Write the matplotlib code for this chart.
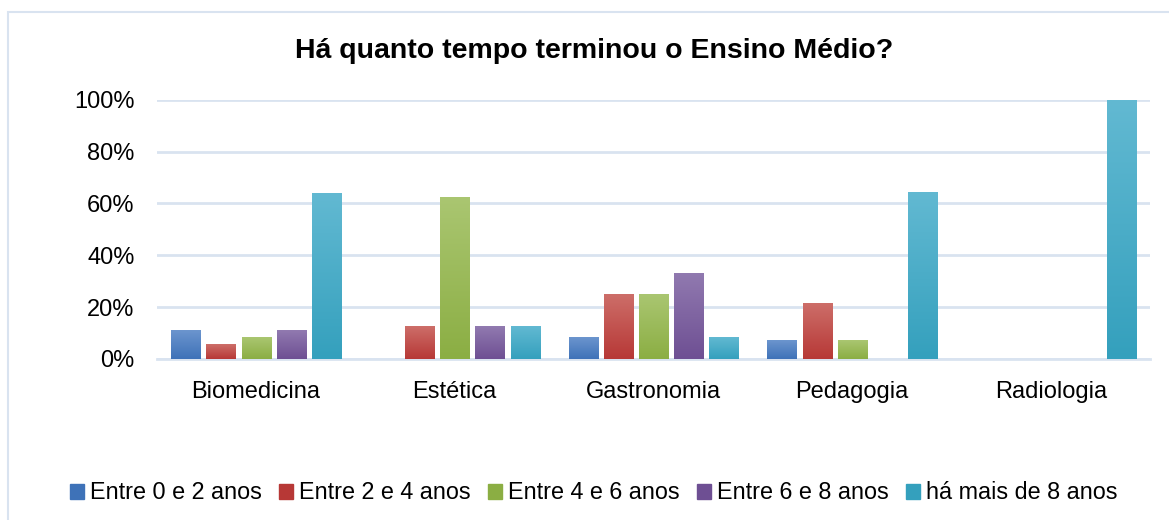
import matplotlib.pyplot as plt
import numpy as np
from matplotlib.colors import LinearSegmentedColormap
from matplotlib.patches import Rectangle

plt.rcParams['font.family'] = ['Liberation Sans', 'DejaVu Sans']

cursos = ['Biomedicina', 'Estética', 'Gastronomia', 'Pedagogia', 'Radiologia']
series = ['Entre 0 e 2 anos', 'Entre 2 e 4 anos', 'Entre 4 e 6 anos',
          'Entre 6 e 8 anos', 'há mais de 8 anos']
entre_0_2 = [11.1, 0.0, 8.3, 7.1, 0.0]
entre_2_4 = [5.6, 12.5, 25.0, 21.4, 0.0]
entre_4_6 = [8.3, 62.5, 25.0, 7.1, 0.0]
entre_6_8 = [11.1, 12.5, 33.3, 0.0, 0.0]
mais_8 = [63.9, 12.5, 8.3, 64.3, 100.0]
valores = [entre_0_2, entre_2_4, entre_4_6, entre_6_8, mais_8]

# (top, bottom) gradient colours, Excel style
cores = [('#6C95CE', '#3E72B8'), ('#CD6E69', '#B73836'), ('#AAC671', '#8BAE43'),
         ('#917AB0', '#6E4F93'), ('#62B9D2', '#34A0BD')]
grid_cor = '#D9E3F0'

fig = plt.figure(figsize=(11.69, 5.2), dpi=100)
ax = fig.add_axes([0.134, 0.310, 0.850, 0.498])

x = np.arange(len(cursos))
slot = 0.177
largura = 0.146
grad = np.linspace(0, 1, 256).reshape(-1, 1)
for i, (vals, (c_top, c_bot)) in enumerate(zip(valores, cores)):
    cmap = LinearSegmentedColormap.from_list('g%d' % i, [c_bot, c_top])
    pos = x + (i - 2) * slot
    bars = ax.bar(pos, vals, largura, color=c_top, zorder=3, label=series[i])
    for b in bars:
        h = b.get_height()
        if h <= 0:
            continue
        x0 = b.get_x()
        im = ax.imshow(grad, cmap=cmap, origin='lower', aspect='auto',
                       extent=(x0, x0 + b.get_width(), 0, h), zorder=4)
        im.set_clip_path(b)

ax.set_xlim(-0.5, len(cursos) - 0.5)
ax.set_ylim(0, 100)
ax.set_yticks(np.arange(0, 101, 20))
ax.set_yticklabels(['%d%%' % v for v in range(0, 101, 20)])
ax.set_xticks(x)
ax.set_xticklabels(cursos)
ax.tick_params(length=0, labelsize=17, colors='black')
ax.tick_params(axis='y', pad=16)
ax.tick_params(axis='x', pad=16)
ax.yaxis.grid(True, color=grid_cor, linewidth=2, zorder=0)
for s in ['top', 'right', 'left']:
    ax.spines[s].set_visible(False)
ax.spines['bottom'].set_color(grid_cor)
ax.spines['bottom'].set_linewidth(2)

fig.text(0.508, 0.902, 'Há quanto tempo terminou o Ensino Médio?',
         ha='center', va='center', fontsize=20.5, fontweight='bold')

fig.patches.append(Rectangle((8 / 1169, -0.01), 1.02, 1 - 12 / 520 + 0.01,
                             transform=fig.transFigure, fill=False,
                             edgecolor=grid_cor, linewidth=1.5))

handles = [Rectangle((0, 0), 1, 1, color=c[1]) for c in cores]
fig.legend(handles, series, loc='center', bbox_to_anchor=(0.508, 0.052),
           ncol=5, frameon=False, fontsize=16.8, handlelength=0.6,
           handleheight=0.6, handletextpad=0.25, columnspacing=0.75)

fig.savefig('out.png', dpi=100)
